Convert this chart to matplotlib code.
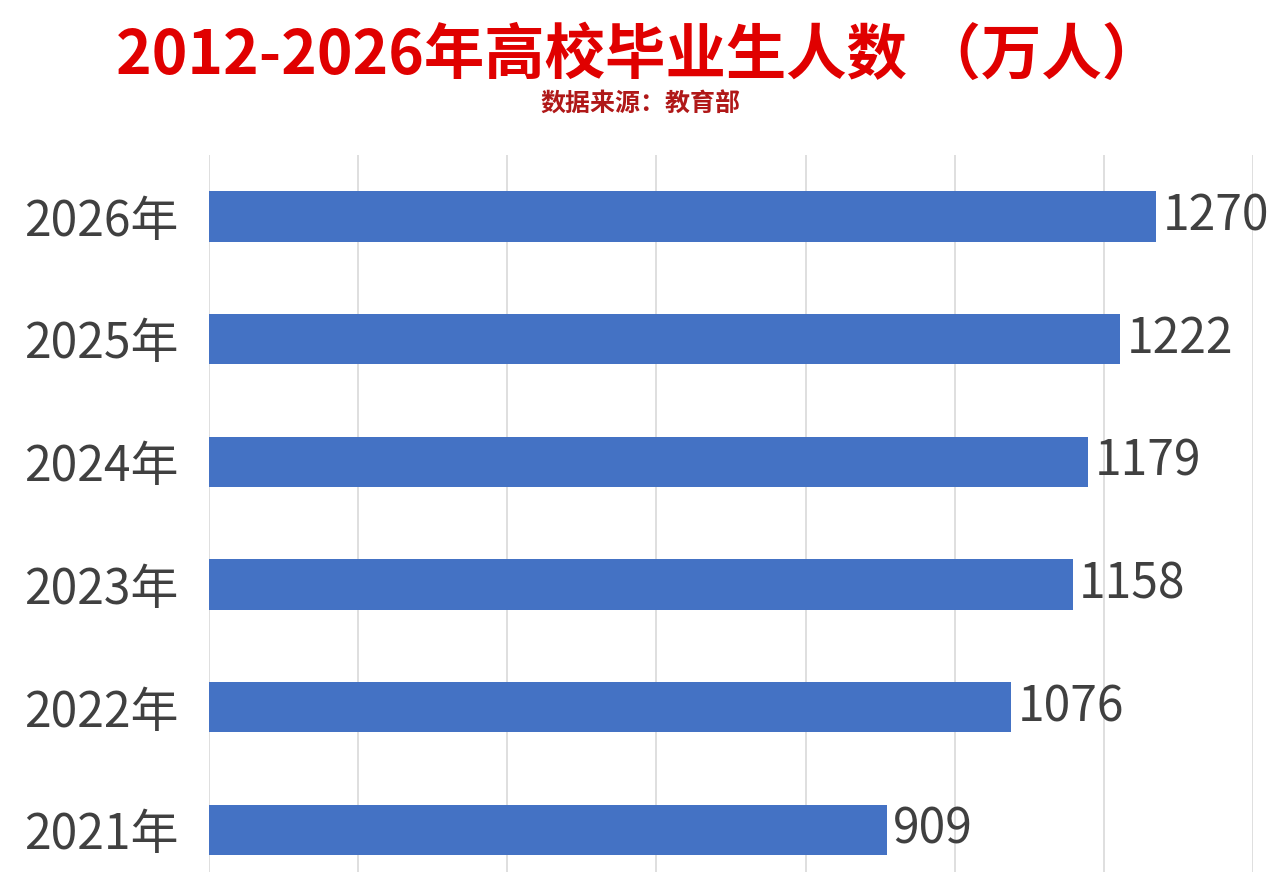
import matplotlib
matplotlib.use("Agg")
import matplotlib.pyplot as plt
from matplotlib.ticker import MultipleLocator

plt.rcParams['font.family'] = ['Noto Sans CJK SC', 'DejaVu Sans']

years = ["2021年", "2022年", "2023年", "2024年", "2025年", "2026年"]
values = [909, 1076, 1158, 1179, 1222, 1270]
title = "2012-2026年高校毕业生人数 （万人）"
subtitle = "数据来源：教育部"

fig = plt.figure(figsize=(12.8, 8.72), dpi=100)
ax = fig.add_axes([209/1280, 0.0, (1253-209)/1280, 1-155/872])

ypos = list(range(len(years)))
ax.barh(ypos, values, height=0.41, color="#4472C4", zorder=3)
ax.set_xlim(0, 1400)
ax.set_ylim(-0.342, 5.5)
ax.xaxis.set_major_locator(MultipleLocator(200))
ax.grid(axis="x", color="#D9D9D9", linewidth=1.2, zorder=0)
ax.set_yticks(ypos)
ax.set_yticklabels(years, fontsize=34.5, color="#404040", fontweight="light")
ax.tick_params(axis="y", length=0, pad=22)
ax.tick_params(axis="x", length=0, labelbottom=False)
for s in ax.spines.values():
    s.set_visible(False)

for y, v in zip(ypos, values):
    ax.annotate(str(v), xy=(v, y), xytext=(4.5, 0), textcoords="offset points",
                va="center", ha="left", fontsize=34.5, color="#404040",
                fontweight="light")

fig.text(0.4995, 1-56/872, title, ha="center", va="center", fontsize=43.5,
         fontweight="bold", color="#E00000")
fig.text(0.5, 1-105/872, subtitle, ha="center", va="center", fontsize=18,
         fontweight="bold", color="#B01818")

fig.savefig("out.png", dpi=100)
